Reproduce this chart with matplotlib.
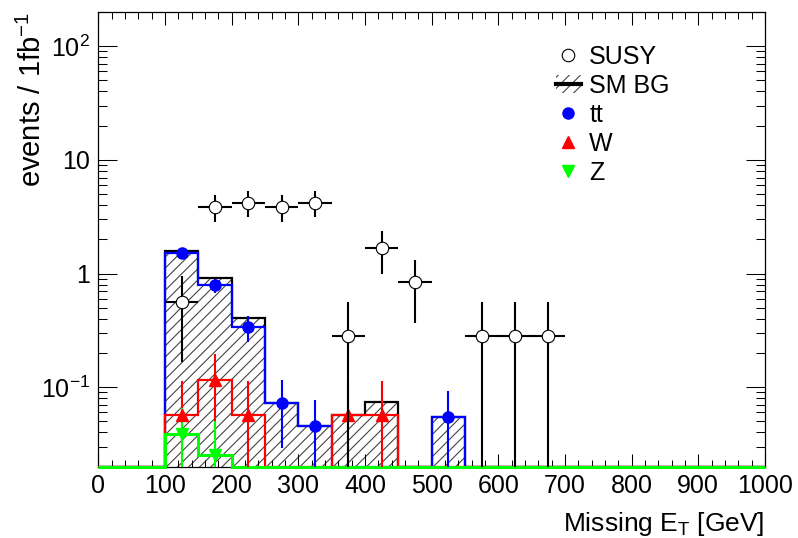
import numpy as np
import matplotlib
matplotlib.use("Agg")
import matplotlib.pyplot as plt
from matplotlib.lines import Line2D
from matplotlib.patches import Patch
from matplotlib.ticker import (FixedLocator, FixedFormatter, LogLocator,
                               MultipleLocator, NullFormatter)

plt.rcParams['font.family'] = ['Liberation Sans', 'DejaVu Sans']
plt.rcParams['mathtext.default'] = 'regular'
plt.rcParams['hatch.linewidth'] = 0.8

# 50 GeV bins of missing ET, 0 - 1000 GeV
edges = np.arange(0, 1001, 50)
centers = edges[:-1] + 25

# events / 1fb^-1 per bin
sm_bg = [0, 0, 1.59, 0.92, 0.41, 0.073, 0.046, 0.057, 0.074, 0,
         0.055, 0, 0, 0, 0, 0, 0, 0, 0, 0]
ttbar = [0, 0, 1.51, 0.79, 0.336, 0.073, 0.046, 0, 0, 0,
         0.055, 0, 0, 0, 0, 0, 0, 0, 0, 0]
ttbar_err = [0, 0, 0.12, 0.11, 0.087, 0.044, 0.031, 0, 0, 0,
             0.037, 0, 0, 0, 0, 0, 0, 0, 0, 0]
wjets = [0, 0, 0.057, 0.117, 0.057, 0, 0, 0.057, 0.057, 0,
         0, 0, 0, 0, 0, 0, 0, 0, 0, 0]
wjets_err = [0, 0, 0.056, 0.08, 0.056, 0, 0, 0.056, 0.056, 0,
             0, 0, 0, 0, 0, 0, 0, 0, 0, 0]
zjets = [0, 0, 0.039, 0.0255, 0, 0, 0, 0, 0, 0,
         0, 0, 0, 0, 0, 0, 0, 0, 0, 0]
zjets_err = [0, 0, 0.027, 0.025, 0, 0, 0, 0, 0, 0,
             0, 0, 0, 0, 0, 0, 0, 0, 0, 0]
susy = [0, 0, 0.557, 3.87, 4.2, 3.87, 4.2, 0.28, 1.67, 0.84,
        0, 0.28, 0.28, 0.28, 0, 0, 0, 0, 0, 0]
susy_err = [0, 0, 0.39, 1.04, 1.08, 1.04, 1.08, 0.28, 0.68, 0.47,
            0, 0.28, 0.28, 0.28, 0, 0, 0, 0, 0, 0]

ymin, ymax = 0.02, 200


def floored(v):
    # empty bins sit on the bottom of the frame, like ROOT draws them
    v = np.asarray(v, dtype=float)
    return np.where(v > 0, v, ymin)


fig = plt.figure(figsize=(7.98, 5.38), dpi=100)
ax = fig.add_axes([0.1232, 0.1325, 0.8354, 0.8452])

# SM background: hatched fill + black outline
ax.stairs(floored(sm_bg), edges, baseline=ymin, fill=True, facecolor='none',
          edgecolor='#444444', hatch='///', linewidth=0, zorder=1)
ax.stairs(floored(sm_bg), edges, baseline=ymin, color='black', lw=1.6, zorder=2)

ax.stairs(floored(ttbar), edges, baseline=ymin, color='#0000ff', lw=1.6, zorder=3)
ax.stairs(floored(wjets), edges, baseline=ymin, color='#ff0000', lw=1.6, zorder=4)
ax.stairs(floored(zjets), edges, baseline=ymin, color='#00ff00', lw=2.2, zorder=5,
          clip_on=False)

for vals, errs, col, mk in [(ttbar, ttbar_err, '#0000ff', 'o'),
                            (wjets, wjets_err, '#ff0000', '^'),
                            (zjets, zjets_err, '#00ff00', 'v')]:
    v = np.asarray(vals)
    e = np.asarray(errs)
    m = v > 0
    ax.errorbar(centers[m], v[m], yerr=e[m], fmt=mk, color=col, ms=8,
                elinewidth=1.5, capsize=0, zorder=6)

s = np.asarray(susy)
se = np.asarray(susy_err)
m = s > 0
ax.errorbar(centers[m], s[m], xerr=25, yerr=se[m], fmt='o', mfc='white',
            mec='black', mew=0.8, ms=9, ecolor='black', elinewidth=1.5,
            capsize=0, zorder=7)

ax.set_xlim(0, 1000)
ax.set_yscale('log')
ax.set_ylim(ymin, ymax)

ax.xaxis.set_major_locator(MultipleLocator(100))
ax.xaxis.set_minor_locator(MultipleLocator(20))
ax.yaxis.set_major_locator(FixedLocator([0.1, 1, 10, 100]))
ax.yaxis.set_major_formatter(FixedFormatter(['$10^{-1}$', '1', '10', '$10^{2}$']))
ax.yaxis.set_minor_locator(LogLocator(base=10, subs=np.arange(2, 10)))
ax.yaxis.set_minor_formatter(NullFormatter())

ax.tick_params(which='both', direction='in', top=True, right=True,
               width=0.75, labelsize=18)
ax.tick_params(axis='x', which='major', length=9.5, pad=5.5)
ax.tick_params(axis='x', which='minor', length=4.7)
ax.tick_params(axis='y', which='major', length=13.5, pad=6)
ax.tick_params(axis='y', which='minor', length=6.5)
for sp in ax.spines.values():
    sp.set_linewidth(0.9)

ax.set_xlabel('Missing E$_{T}$ [GeV]', fontsize=19, loc='right')
ax.xaxis.set_label_coords(1.0, -0.095)
ax.set_ylabel('events / 1fb$^{-1}$', fontsize=21, loc='top')
ax.yaxis.set_label_coords(-0.077, 1.0)

handles = [
    Line2D([], [], marker='o', ls='none', mfc='white', mec='black', mew=0.8, ms=9),
    (Patch(facecolor='none', edgecolor='#444444', hatch='///', lw=0),
     Line2D([], [], color='black', lw=3)),
    Line2D([], [], marker='o', ls='none', color='#0000ff', ms=8),
    Line2D([], [], marker='^', ls='none', color='#ff0000', ms=8),
    Line2D([], [], marker='v', ls='none', color='#00ff00', ms=8),
]
labels = ['SUSY', 'SM BG', 'tt', 'W', 'Z']
ax.legend(handles, labels, loc='upper left', bbox_to_anchor=(0.686, 0.928),
          frameon=False, fontsize=18, handlelength=1.0, handletextpad=0.34,
          labelspacing=0.2, borderpad=0, borderaxespad=0)

fig.savefig('out.png', dpi=100)
